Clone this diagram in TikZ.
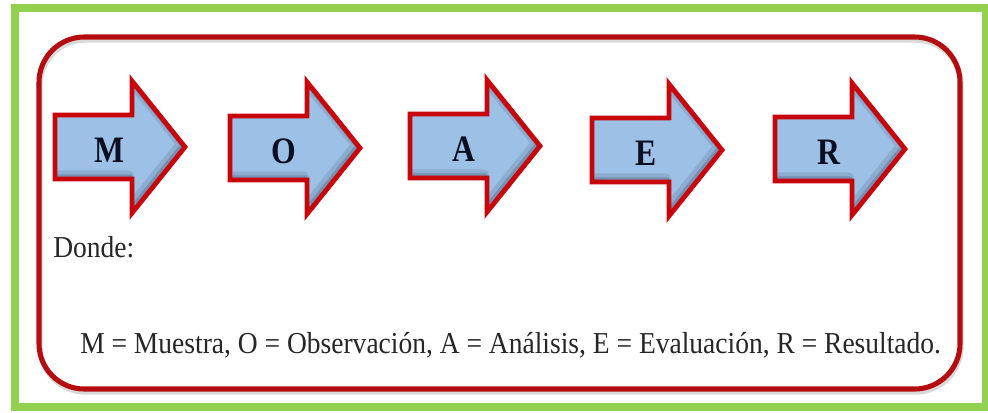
\documentclass[tikz,border=0pt]{standalone}
\usepackage{fontspec}
\setmainfont{Liberation Serif}[FakeStretch=0.905]
\newfontfamily\moaerLetterFont{Liberation Serif}[FakeStretch=0.85]
\begin{document}
\begin{tikzpicture}
% MOAER scheme, pixel grid with y pointing down
\def\pxsz{0.75pt}
\definecolor{moaerFrameColor}{rgb}{0.573,0.816,0.314}
\definecolor{moaerBoxColor}{rgb}{0.710,0.047,0.063}
\definecolor{moaerArrowLine}{rgb}{0.780,0.020,0.040}
\definecolor{moaerArrowFill}{rgb}{0.616,0.757,0.902}
\definecolor{moaerShadowColor}{rgb}{0.150,0.200,0.300}
\definecolor{moaerLetterColor}{rgb}{0.040,0.060,0.130}
\providecommand{\moaerArrowPath}[2]{({#1+2},{#2-32}) -- ({#1+79},{#2-32}) -- ({#1+79},{#2-66}) -- ({#1+132},{#2}) -- ({#1+79},{#2+66}) -- ({#1+79},{#2+32}) -- ({#1+2},{#2+32}) -- cycle}
\providecommand{\moaerArrow}[3]{%
  \begin{scope}
    \clip \moaerArrowPath{#1}{#2};
    \fill[fill=moaerArrowFill] \moaerArrowPath{#1}{#2};
    % soft inner shadow towards the lower right
    \draw[draw=moaerShadowColor, line width=8pt, opacity=0.14, xshift=-2.5pt, yshift=2.5pt] \moaerArrowPath{#1}{#2};
    \draw[draw=moaerShadowColor, line width=4pt, opacity=0.22, xshift=-1.5pt, yshift=1.5pt] \moaerArrowPath{#1}{#2};
  \end{scope}
  \draw[draw=moaerArrowLine, line width=3.6pt, line join=miter] \moaerArrowPath{#1}{#2};
  \node[font=\moaerLetterFont\bfseries\fontsize{28}{30}\selectfont, text=moaerLetterColor, inner sep=0pt] (#3) at ({#1+56},{#2+3}) {#3};}
\begin{scope}[x=\pxsz, y=-\pxsz, line cap=round, line join=round]
  \useasboundingbox (0,0) rectangle (988,412);
  % Outer green frame
  \draw[draw=moaerFrameColor, line width=6pt, line join=miter] (15,8) rectangle (986,407);
  % Rounded red box with a faint drop shadow
  \draw[draw=black, opacity=0.15, line width=4pt, rounded corners=34pt] (40,40) rectangle (961,392);
  \draw[draw=moaerBoxColor, line width=3.8pt, rounded corners=34pt] (39,37) rectangle (960,389);
  % Arrows
  \moaerArrow{53}{147}{M}
  \moaerArrow{228}{148}{O}
  \moaerArrow{408}{146}{A}
  \moaerArrow{590}{150}{E}
  \moaerArrow{773}{149}{R}
  % Texts
  \node[anchor=base west, inner sep=0pt, text=black!85, font=\fontsize{22.8}{27}\selectfont] (donde) at (53,257) {Donde:};
  \node[anchor=base west, inner sep=0pt, text=black!85, font=\fontsize{22.8}{27}\selectfont] (legend) at (80,353) {M = Muestra, O = Observación, A = Análisis, E = Evaluación, R = Resultado.};
\end{scope}
\end{tikzpicture}
\end{document}
